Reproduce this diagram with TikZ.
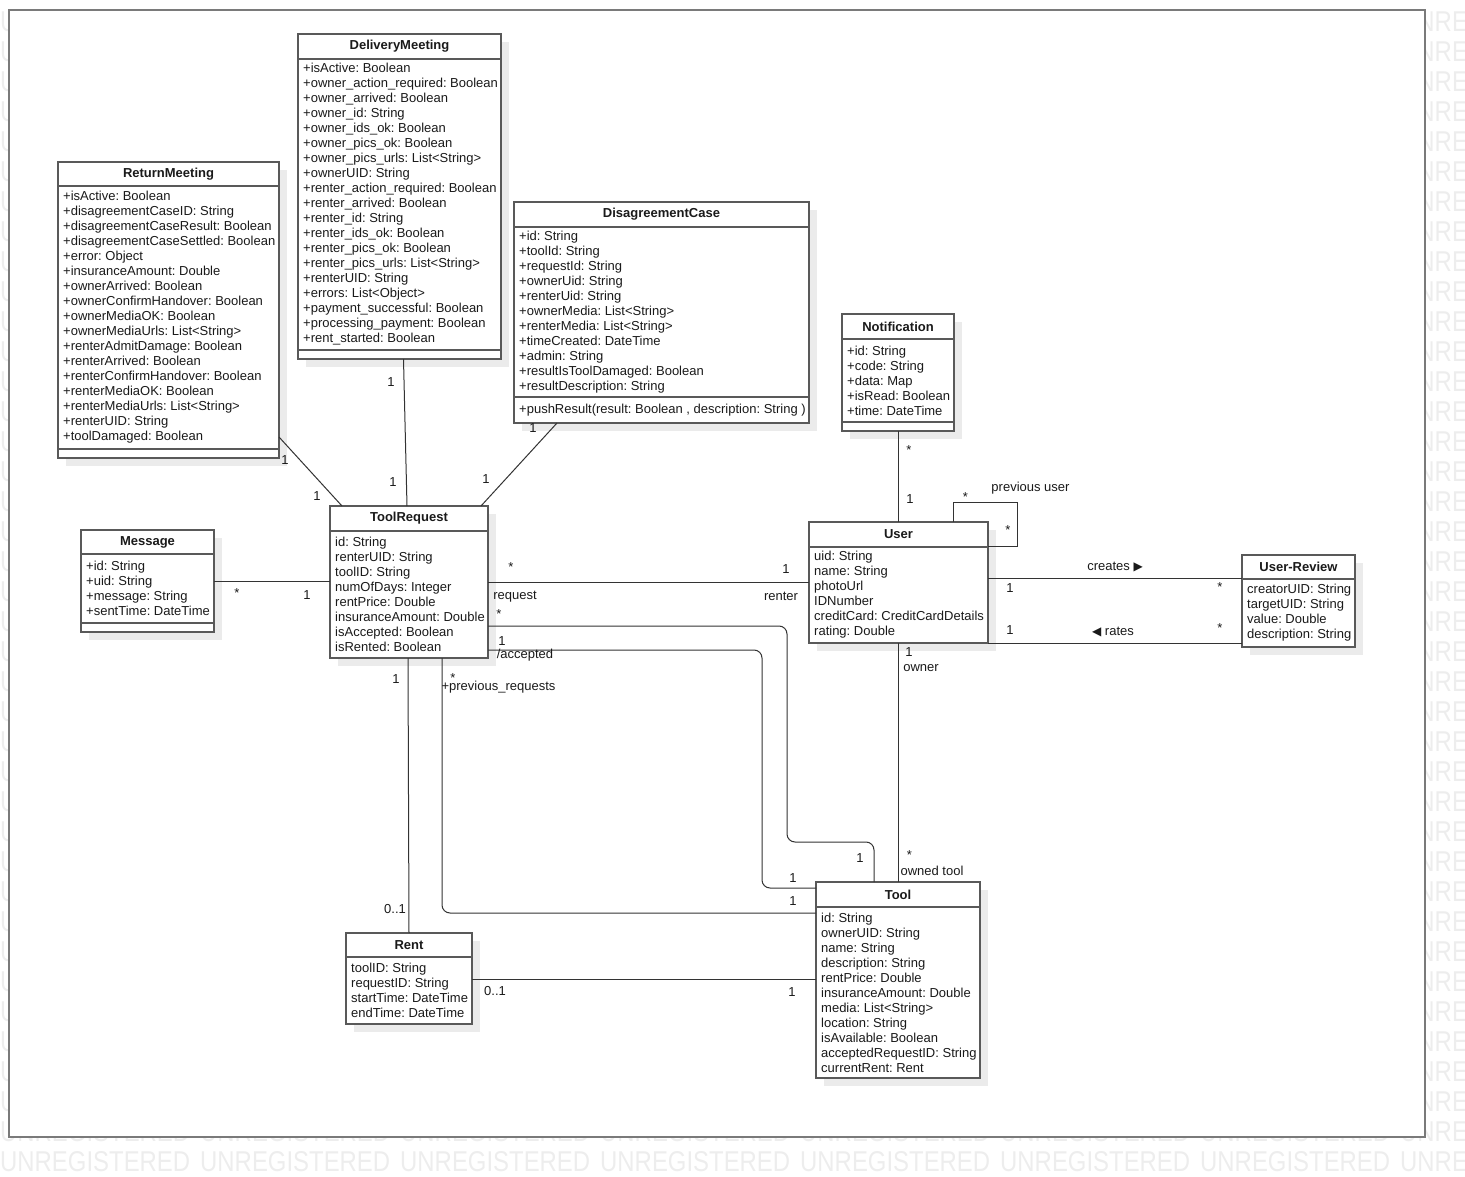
\documentclass[tikz,border=0pt]{standalone}
\usepackage{fontspec}
\setmainfont{Liberation Sans}
\newfontfamily\symfont{DejaVu Sans}
\usetikzlibrary{positioning,shadows}
\definecolor{boxc}{HTML}{595959}
\definecolor{linec}{HTML}{333333}
\definecolor{txtc}{HTML}{1A1A1A}
\definecolor{shadc}{HTML}{EBEBEB}
\definecolor{framec}{HTML}{7A7A7A}
\definecolor{wmc}{HTML}{EDEDED}
\frenchspacing

\begin{document}
\begin{tikzpicture}[x=1pt,y=-1pt,font=\fontsize{13}{15}\selectfont,text=txtc,
   cmp/.style={draw=boxc,line width=1.3pt,fill=white,outer sep=0pt,
               minimum width=#1,inner sep=0pt,
               drop shadow={shadow xshift=8pt,shadow yshift=-8pt,fill=shadc,opacity=1}},
   hd/.style={cmp=#1,anchor=north west,
              font=\fontsize{13}{15}\selectfont\bfseries},
   txt/.style={anchor=west,xshift=5pt,align=left,inner sep=0pt},
   assoc/.style={draw=linec,line width=1pt},
   lbl/.style={inner sep=0pt},
   wm/.style={anchor=west,inner sep=0pt,text=wmc}]
  \useasboundingbox (0,0) rectangle (1465,1177);
  % watermark behind the frame
  \begin{scope}
    \clip (0,0) rectangle (1465,1177);
    \foreach \row in {0,...,38}
      \foreach \col in {0,...,7}
        \node[wm] (wm-\row-\col) at (200*\col,22+30*\row)
          {\resizebox{190pt}{20pt}{UNREGISTERED}};
  \end{scope}
  \draw[framec,line width=2pt,fill=white] (9,10) rectangle (1425,1137);

  % classes
  \node[hd=221pt,minimum height=24pt] (rm) at (58,162) {ReturnMeeting};
  \node[cmp=221pt,minimum height=263pt,below=0pt of rm,label={[txt]west:{+isActive: Boolean\\
    +disagreementCaseID: String\\+disagreementCaseResult: Boolean\\
    +disagreementCaseSettled: Boolean\\+error: Object\\+insuranceAmount: Double\\
    +ownerArrived: Boolean\\+ownerConfirmHandover: Boolean\\+ownerMediaOK: Boolean\\
    +ownerMediaUrls: List<String>\\+renterAdmitDamage: Boolean\\+renterArrived: Boolean\\
    +renterConfirmHandover: Boolean\\+renterMediaOK: Boolean\\
    +renterMediaUrls: List<String>\\+renterUID: String\\+toolDamaged: Boolean}}] (rm-a) {};
  \node[cmp=221pt,minimum height=9pt,below=0pt of rm-a] (rm-o) {};

  \node[hd=203pt,minimum height=25pt] (dm) at (298,34) {DeliveryMeeting};
  \node[cmp=203pt,minimum height=291pt,below=0pt of dm,label={[txt]west:{+isActive: Boolean\\
    +owner\_action\_required: Boolean\\+owner\_arrived: Boolean\\+owner\_id: String\\
    +owner\_ids\_ok: Boolean\\+owner\_pics\_ok: Boolean\\+owner\_pics\_urls: List<String>\\
    +ownerUID: String\\+renter\_action\_required: Boolean\\+renter\_arrived: Boolean\\
    +renter\_id: String\\+renter\_ids\_ok: Boolean\\+renter\_pics\_ok: Boolean\\
    +renter\_pics\_urls: List<String>\\+renterUID: String\\+errors: List<Object>\\
    +payment\_successful: Boolean\\+processing\_payment: Boolean\\
    +rent\_started: Boolean}}] (dm-a) {};
  \node[cmp=203pt,minimum height=9pt,below=0pt of dm-a] (dm-o) {};

  \node[hd=295pt,minimum height=25pt] (dc) at (514,202) {DisagreementCase};
  \node[cmp=295pt,minimum height=170pt,below=0pt of dc,label={[txt]west:{+id: String\\
    +toolId: String\\+requestId: String\\+ownerUid: String\\+renterUid: String\\
    +ownerMedia: List<String>\\+renterMedia: List<String>\\+timeCreated: DateTime\\
    +admin: String\\+resultIsToolDamaged: Boolean\\+resultDescription: String}}] (dc-a) {};
  \node[cmp=295pt,minimum height=26pt,below=0pt of dc-a,
    label={[txt]west:{+pushResult(result: Boolean , description: String )}}] (dc-o) {};

  \node[hd=112pt,minimum height=25pt] (nt) at (842,314) {Notification};
  \node[cmp=112pt,minimum height=83pt,below=0pt of nt,label={[txt]west:{+id: String\\
    +code: String\\+data: Map\\+isRead: Boolean\\+time: DateTime}}] (nt-a) {};
  \node[cmp=112pt,minimum height=9pt,below=0pt of nt-a] (nt-o) {};

  \node[hd=179pt,minimum height=25pt] (us) at (809,522) {User};
  \node[cmp=179pt,minimum height=96pt,below=0pt of us,label={[txt]west:{uid: String\\
    name: String\\photoUrl\\IDNumber\\creditCard: CreditCardDetails\\
    rating: Double}}] (us-a) {};

  \node[hd=113pt,minimum height=24pt] (ur) at (1242,555) {User-Review};
  \node[cmp=113pt,minimum height=68pt,below=0pt of ur,label={[txt]west:{creatorUID: String\\
    targetUID: String\\value: Double\\description: String}}] (ur-a) {};

  \node[hd=133pt,minimum height=24pt] (ms) at (81,530) {Message};
  \node[cmp=133pt,minimum height=69pt,below=0pt of ms,label={[txt]west:{+id: String\\
    +uid: String\\+message: String\\+sentTime: DateTime}}] (ms-a) {};
  \node[cmp=133pt,minimum height=9pt,below=0pt of ms-a] (ms-o) {};

  \node[hd=158pt,minimum height=25pt] (tr) at (330,506) {ToolRequest};
  \node[cmp=158pt,minimum height=127pt,below=0pt of tr,label={[txt]west:{id: String\\
    renterUID: String\\toolID: String\\numOfDays: Integer\\rentPrice: Double\\
    insuranceAmount: Double\\isAccepted: Boolean\\isRented: Boolean}}] (tr-a) {};

  \node[hd=126pt,minimum height=24pt] (rn) at (346,933) {Rent};
  \node[cmp=126pt,minimum height=67pt,below=0pt of rn,label={[txt]west:{toolID: String\\
    requestID: String\\startTime: DateTime\\endTime: DateTime}}] (rn-a) {};

  \node[hd=164pt,minimum height=25pt] (tl) at (816,882) {Tool};
  \node[cmp=164pt,minimum height=171pt,below=0pt of tl,label={[txt]west:{id: String\\
    ownerUID: String\\name: String\\description: String\\rentPrice: Double\\
    insuranceAmount: Double\\media: List<String>\\location: String\\
    isAvailable: Boolean\\acceptedRequestID: String\\currentRent: Rent}}] (tl-a) {};

  % associations
  \draw[assoc] ([yshift=12pt]rm-a.south east) node[lbl,shift={(6,23)}] {1}
    -- ([xshift=12pt]tr.north west) node[lbl,shift={(-25,-10)}] {1};
  \draw[assoc] ([xshift=4pt]dm-o.south) node[lbl,shift={(-12.5,23)}] {1}
    -- ([xshift=-2pt]tr.north) node[lbl,shift={(-14,-24)}] {1};
  \draw[assoc] ([xshift=43pt]dc-o.south west) node[lbl,shift={(-24,5)}] {1}
    -- ([xshift=-7pt]tr.north east) node[lbl,shift={(5,-27)}] {1};
  \draw[assoc] ([yshift=7.5pt]ms-a.east) coordinate (ms-r) node[lbl,shift={(23,12)}] {*}
    -- (ms-r -| tr-a.west) node[lbl,shift={(-23,14)}] {1};
  \draw[assoc] ([yshift=12pt]tr-a.east) coordinate (tr-r)
      node[lbl,shift={(23,-15)}] {*} node[lbl,shift={(27,14)}] {request}
    -- (tr-r -| us-a.west)
      node[lbl,shift={(-23,-13.5)}] {1} node[lbl,shift={(-28,13.5)}] {renter};
  \draw[assoc,rounded corners=8pt] ([yshift=-31.5pt]tr-a.east) node[lbl,shift={(11,-12)}] {*}
    -| (787,842) -| ([xshift=58pt]tl.north west) node[lbl,shift={(-14,-24)}] {1};
  \draw[assoc,rounded corners=8pt] ([yshift=8pt]tr-a.south east)
      node[lbl,shift={(14,-9)}] {1} node[lbl,shift={(37,5)}] {/accepted}
    -| (762,888) -- ([yshift=-6pt]tl.north west) node[lbl,shift={(-23,-10)}] {1};
  \draw[assoc,rounded corners=8pt] ([xshift=112pt]tr-a.south west)
      node[lbl,shift={(11,20)}] {*} node[lbl,shift={(56.5,29)}] {+previous\_requests}
    |- ([yshift=-6pt]tl-a.north west) node[lbl,shift={(-23,-12)}] {1};
  \draw[assoc] ([xshift=-1pt]tr-a.south) node[lbl,shift={(-12,21)}] {1}
    -- (rn.north) node[lbl,shift={(-14,-24)}] {0..1};
  \draw[assoc] ([yshift=11.5pt]rn-a.east) coordinate (rn-r) node[lbl,shift={(23,12)}] {0..1}
    -- (rn-r -| tl-a.west) node[lbl,shift={(-24,13)}] {1};
  \draw[assoc] (nt-o.south) node[lbl,shift={(11,19)}] {*}
    -- (nt-o.south |- us.north) node[lbl,shift={(12,-23)}] {1};
  \draw[assoc] ([xshift=-34.5pt]us.north east)
      node[lbl,shift={(12,-25)}] {*} node[lbl,shift={(77,-34)}] {previous user}
    |- (1017,502) |- ([yshift=1pt]us.south east) node[lbl,shift={(20,-16)}] {*};
  \draw[assoc] ([yshift=17pt]us-a.east) coordinate (us-r)
      node[lbl,shift={(22,10)}] {1}
      node[lbl,shift={(127,-11)}] {creates {\symfont\fontsize{12}{15}\selectfont ▶}}
    -- (us-r -| ur.west) node[lbl,shift={(-22,9)}] {*};
  \draw[assoc] (us-a.south east)
      node[lbl,shift={(22,-13)}] {1}
      node[lbl,shift={(125,-11)}] {{\symfont\fontsize{12}{15}\selectfont ◀} rates}
    -- (us-a.south east -| ur-a.west) node[lbl,shift={(-22,-15)}] {*};
  \draw[assoc] (us-a.south)
      node[lbl,shift={(10.5,9)}] {1} node[lbl,shift={(22.5,25)}] {owner}
    -- (us-a.south |- tl.north)
      node[lbl,shift={(11,-27)}] {*} node[lbl,shift={(33.5,-11)}] {owned tool};
\end{tikzpicture}
\end{document}
